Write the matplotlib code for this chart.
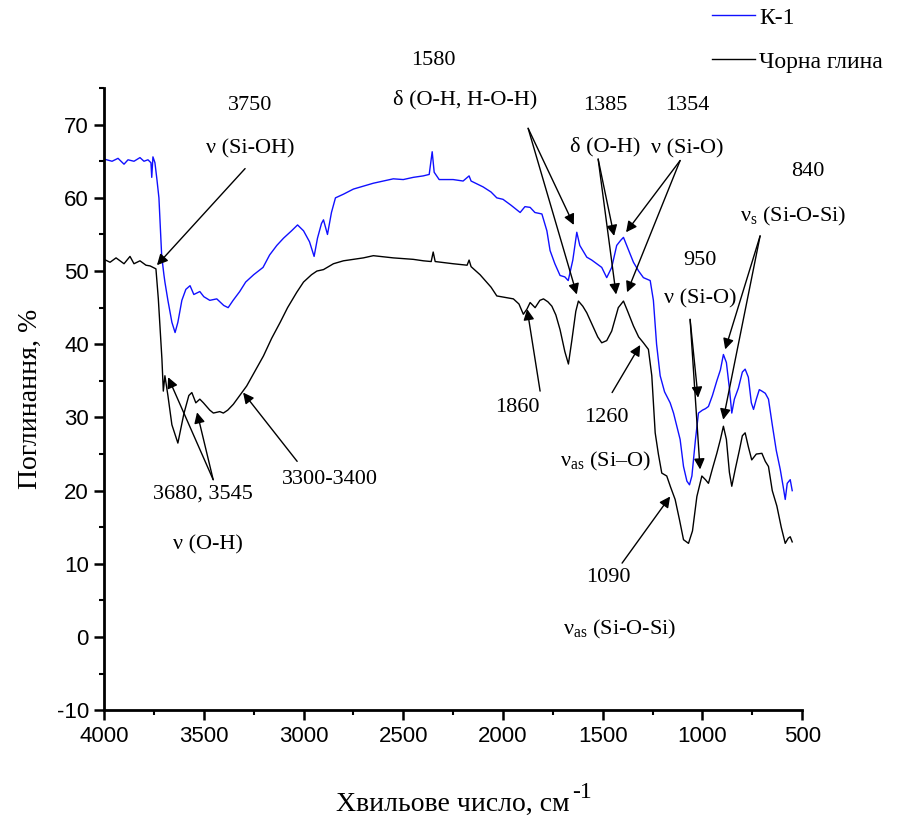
import matplotlib
matplotlib.use("Agg")
import matplotlib.pyplot as plt
from matplotlib.ticker import MultipleLocator

plt.rcParams['font.family'] = ['Liberation Serif', 'DejaVu Serif']
plt.rcParams['mathtext.fontset'] = 'custom'
plt.rcParams['mathtext.rm'] = 'Liberation Serif'
plt.rcParams['mathtext.it'] = 'Liberation Serif:italic'
plt.rcParams['axes.unicode_minus'] = False

# K-1 (blue)
wn_k1 = [4000, 3960, 3930, 3900, 3880, 3850, 3820, 3800, 3780, 3765, 3761, 3755, 3745,
         3735, 3725, 3711, 3700, 3695, 3680, 3660, 3644, 3630, 3610, 3590, 3569, 3550,
         3520, 3500, 3470, 3435, 3400, 3378, 3353, 3320, 3290, 3250, 3203, 3170, 3134,
         3100, 3060, 3030, 3000, 2970, 2947, 2930, 2910, 2900, 2880, 2860, 2840, 2800,
         2750, 2700, 2650, 2600, 2550, 2500, 2450, 2400, 2370, 2355, 2345, 2320, 2250,
         2200, 2170, 2160, 2100, 2060, 2031, 2000, 1960, 1914, 1890, 1864, 1840, 1805,
         1780, 1764, 1740, 1714, 1690, 1673, 1650, 1630, 1615, 1580, 1555, 1530, 1505,
         1480, 1455, 1430, 1410, 1396, 1380, 1346, 1320, 1296, 1262, 1246, 1230, 1212,
         1190, 1162, 1145, 1112, 1095, 1078, 1065, 1053, 1035, 1020, 1000, 985, 970, 950,
         928, 910, 895, 880, 865, 853, 840, 820, 800, 786, 770, 755, 744, 730, 715, 702,
         685, 669, 650, 630, 610, 595, 585, 575, 560, 550]
ab_k1 = [65.3, 65.0, 65.4, 64.6, 65.2, 65.0, 65.5, 65.0, 65.2, 64.8, 62.8, 65.6, 64.8,
         62.5, 60.0, 52.0, 49.5, 48.5, 46.0, 43.0, 41.6, 43.0, 46.0, 47.5, 48.0, 46.8,
         47.2, 46.5, 46.0, 46.2, 45.3, 45.0, 46.0, 47.2, 48.5, 49.5, 50.5, 52.2, 53.5,
         54.5, 55.5, 56.3, 55.5, 54.0, 52.0, 54.5, 56.5, 57.0, 55.0, 58.0, 60.0, 60.5,
         61.2, 61.6, 62.0, 62.3, 62.6, 62.5, 62.8, 63.0, 63.2, 66.3, 63.5, 62.5, 62.5,
         62.3, 63.0, 62.3, 61.5, 60.8, 60.0, 59.8, 59.0, 58.0, 58.8, 58.7, 58.0, 57.8,
         55.5, 52.8, 51.0, 49.4, 49.2, 48.7, 51.5, 55.3, 53.5, 51.9, 51.5, 51.0, 50.5,
         49.1, 50.5, 53.5, 54.2, 54.6, 53.5, 51.2, 50.0, 49.1, 48.7, 46.0, 40.0, 35.7,
         33.5, 32.0, 30.6, 27.0, 23.3, 21.3, 20.8, 22.0, 27.0, 30.6, 31.0, 31.2, 31.5, 33.0,
         35.0, 36.5, 38.6, 37.5, 34.0, 30.6, 32.5, 34.0, 36.2, 36.6, 35.5, 32.0, 31.1, 32.5,
         33.8, 33.6, 33.3, 32.5, 29.0, 25.5, 22.9, 20.5, 18.8, 21.0, 21.5, 20.0]

# black clay (black)
wn_clay = [4000, 3970, 3940, 3900, 3870, 3850, 3820, 3790, 3769, 3740, 3728, 3710, 3703,
           3695, 3680, 3660, 3630, 3600, 3575, 3560, 3540, 3520, 3502, 3470, 3452, 3420,
           3402, 3380, 3352, 3320, 3285, 3250, 3201, 3160, 3117, 3080, 3034, 3000, 2960,
           2933, 2900, 2850, 2800, 2700, 2650, 2550, 2450, 2399, 2360, 2350, 2340, 2250,
           2180, 2170, 2160, 2115, 2060, 2031, 1990, 1948, 1920, 1898, 1880, 1864, 1839,
           1815, 1797, 1775, 1755, 1735, 1714, 1690, 1672, 1655, 1635, 1622, 1600, 1580,
           1550, 1525, 1505, 1480, 1455, 1422, 1396, 1375, 1346, 1320, 1296, 1271, 1254,
           1237, 1221, 1204, 1179, 1160, 1137, 1115, 1095, 1070, 1050, 1028, 1003, 985,
           970, 950, 928, 910, 895, 880, 865, 853, 835, 815, 800, 786, 770, 753, 730, 702,
           685, 669, 650, 627, 605, 585, 570, 560, 550]
ab_clay = [51.6, 51.2, 51.8, 51.0, 52.0, 51.0, 51.4, 50.8, 50.7, 50.3, 46.2, 38.0, 33.6,
           35.7, 33.0, 29.0, 26.5, 30.5, 33.0, 33.4, 32.0, 32.5, 32.0, 31.0, 30.6, 30.8,
           30.6, 31.0, 31.8, 33.0, 34.3, 36.0, 38.4, 40.8, 43.0, 45.0, 47.1, 48.5, 49.5,
           50.0, 50.2, 51.0, 51.4, 51.8, 52.1, 51.8, 51.6, 51.4, 51.3, 52.6, 51.3, 51.0,
           50.8, 51.5, 50.6, 49.5, 47.8, 46.6, 46.4, 46.2, 45.5, 44.1, 44.8, 45.7, 45.0,
           46.0, 46.2, 45.8, 45.2, 44.0, 42.0, 39.0, 37.3, 40.5, 44.5, 45.9, 45.2, 44.3,
           42.5, 41.0, 40.2, 40.5, 41.8, 45.0, 45.9, 44.5, 42.5, 41.0, 40.2, 39.3, 35.7,
           27.9, 25.0, 22.4, 22.0, 20.5, 18.8, 16.0, 13.3, 12.8, 14.5, 19.2, 22.0, 21.5,
           21.0, 23.0, 25.1, 27.0, 28.8, 27.0, 22.5, 20.6, 23.0, 25.5, 27.5, 27.9, 26.0, 24.2,
           25.0, 25.1, 24.0, 23.3, 20.0, 17.9, 15.0, 12.8, 13.5, 13.7, 13.0]

# annotations: (text lines with positions, arrow start, arrow targets)
notes = [
    ([("3750", 3268, 72.6), ("ν (Si-OH)", 3268, 66.7)], (3293, 64.0), [(3735, 50.8)]),
    ([("1580", 2350, 78.8), ("δ (O-H, H-O-H)", 2190, 73.4)], (1874, 69.5),
     [(1645, 56.3), (1630, 46.8)]),
    ([("1385", 1488, 72.6), ("δ (O-H)", 1488, 67.0)], (1523, 65.3),
     [(1443, 54.8), (1433, 46.8)]),
    ([("1354", 1077, 72.6), ("ν (Si-O)", 1077, 66.7)], (1112, 65.1),
     [(1383, 55.3), (1378, 47.1)]),
    ([("840", 470, 63.6), (r"ν$_{\rm s}$ (Si-O-Si)", 545, 57.5)], (711, 54.8),
     [(886, 39.3), (896, 29.7)]),
    ([("950", 1012, 51.4), ("ν (Si-O)", 1012, 46.2)], (1062, 43.4),
     [(1022, 32.7), (1012, 22.9)]),
    ([("1860", 1929, 31.4)], (1814, 33.6), [(1879, 44.8)]),
    ([("1260", 1483, 30.0), (r"ν$_{\rm as}$ (Si–O)", 1488, 24.0)], (1453, 33.4),
     [(1312, 39.9)]),
    ([("3680, 3545", 3504, 19.5), ("ν (O-H)", 3479, 12.6)], (3453, 21.5),
     [(3679, 35.5), (3534, 30.7)]),
    ([("3300-3400", 2867, 21.5)], (3032, 24.0), [(3303, 33.4)]),
    ([("1090", 1473, 8.1), (r"ν$_{\rm as}$ (Si-O-Si)", 1413, 1.0)], (1403, 10.1),
     [(1162, 19.2)]),
]

fig = plt.figure(figsize=(9.21, 8.23), dpi=100)
ax = fig.add_axes([0.113, 0.137, 0.758, 0.756])

ax.plot(wn_k1, ab_k1, color='#1010ff', lw=1.0, label='К-1')
ax.plot(wn_clay, ab_clay, color='black', lw=1.0, label='Чорна глина')

ax.set_xlim(4000, 500)
ax.set_ylim(-10, 75)
ax.xaxis.set_major_locator(MultipleLocator(500))
ax.xaxis.set_minor_locator(MultipleLocator(250))
ax.yaxis.set_major_locator(MultipleLocator(10))
ax.yaxis.set_minor_locator(MultipleLocator(5))
for s in ['top', 'right']:
    ax.spines[s].set_visible(False)
for s in ['left', 'bottom']:
    ax.spines[s].set_linewidth(2.0)
ax.tick_params(which='major', direction='out', length=7, width=1.8, pad=4)
ax.tick_params(which='minor', direction='out', length=3.5, width=1.5)
for lab in ax.get_xticklabels() + ax.get_yticklabels():
    lab.set_fontfamily('Liberation Sans')
    lab.set_fontsize(16)

ax.set_xlabel('Хвильове число, см', fontsize=20, labelpad=33)
ax.set_ylabel('Поглинання, %', fontsize=20, labelpad=10)

for texts, start, targets in notes:
    for t, x, y in texts:
        ax.text(x, y, t, fontsize=16, ha='center', va='center', clip_on=False)
    for tx, ty in targets:
        ax.annotate('', xy=(tx, ty), xytext=start, annotation_clip=False,
                    arrowprops=dict(arrowstyle='-|>', color='black', lw=1.0,
                                    mutation_scale=16, shrinkA=0, shrinkB=0))

fig.legend(loc='upper left', bbox_to_anchor=(0.768, 0.997), frameon=False,
           fontsize=17, handlelength=1.8, handletextpad=0.2, labelspacing=0.95,
           borderaxespad=0, borderpad=0.2)

# superscript "-1" after the x label (plain hyphen as in the original)
fig.canvas.draw()
bb = ax.xaxis.label.get_window_extent()
fig.text((bb.x1 + 2) / fig.bbox.width, bb.y1 / fig.bbox.height, '-1',
         fontsize=17, ha='left', va='center')

fig.savefig('out.png', dpi=100)
